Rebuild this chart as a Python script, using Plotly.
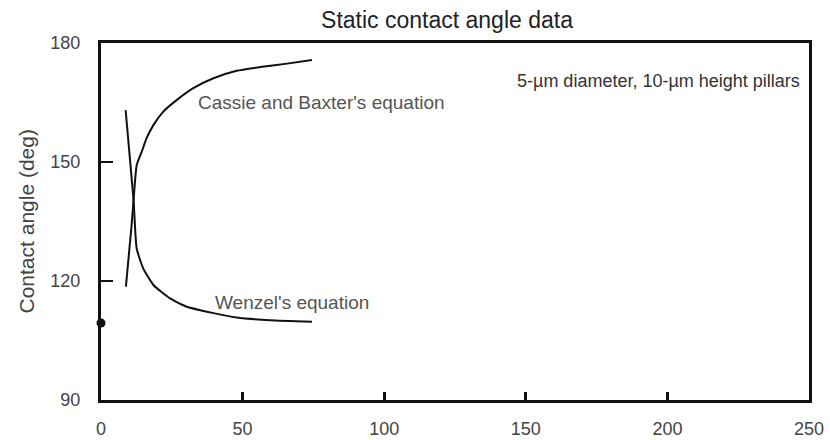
import plotly.graph_objects as go

# Cassie and Baxter's equation
cassie_x = [8.8, 10.8, 11.5, 12.6, 14.4, 16.1, 18.5, 22.0, 26.7, 32.6, 39.7, 47.9, 56.9, 65.7, 74.5]
cassie_y = [118.6, 134.1, 140.4, 149.2, 152.6, 156.0, 159.3, 162.7, 165.6, 168.6, 171.1, 173.0, 174.0, 174.8, 175.7]

# Wenzel's equation
wenzel_x = [8.7, 11.5, 12.6, 14.9, 18.5, 24.4, 30.3, 39.7, 47.9, 59.7, 74.5]
wenzel_y = [163.1, 140.4, 128.2, 123.2, 119.0, 115.6, 113.5, 111.9, 110.8, 110.1, 109.7]

# flat surface measurement
flat_x = [0]
flat_y = [109.4]

x_ticks = [0, 50, 100, 150, 200, 250]
y_ticks = [90, 120, 150, 180]

font_family = "Liberation Sans, Arial, sans-serif"
tick_color = "#444444"
note_color = "#555555"

L, R, T, B = 101, 21, 43, 40
W, H = 830, 440
pw, ph = W - L - R, H - T - B

def px_to_x(px):
    return (px - L) / pw * 250

def py_to_y(py):
    return 90 + (H - B - py) / ph * 90

fig = go.Figure()
fig.add_trace(go.Scatter(x=cassie_x, y=cassie_y, mode="lines",
                         line=dict(color="#111111", width=2, shape="spline", smoothing=0.5),
                         showlegend=False))
fig.add_trace(go.Scatter(x=wenzel_x, y=wenzel_y, mode="lines",
                         line=dict(color="#111111", width=2, shape="spline", smoothing=0.5),
                         showlegend=False))
fig.add_trace(go.Scatter(x=flat_x, y=flat_y, mode="markers",
                         marker=dict(color="#111111", size=9), cliponaxis=False, showlegend=False))

fig.add_annotation(x=px_to_x(321), y=py_to_y(102), xref="x", yref="y",
                   text="Cassie and Baxter's equation", showarrow=False,
                   font=dict(size=19, color=note_color, family=font_family))
fig.add_annotation(x=px_to_x(292), y=py_to_y(302), xref="x", yref="y",
                   text="Wenzel's equation", showarrow=False,
                   font=dict(size=19, color=note_color, family=font_family))
fig.add_annotation(x=px_to_x(802), y=py_to_y(81), xref="x", yref="y", xanchor="right",
                   text="5-µm diameter, 10-µm height pillars", showarrow=False,
                   font=dict(size=18, color="#333333", family=font_family))
fig.add_annotation(x=(26 - L) / pw, y=0.5, xref="paper", yref="paper", textangle=-90,
                   xanchor="center", yanchor="middle",
                   text="Contact angle (deg)", showarrow=False,
                   font=dict(size=21, color=tick_color, family=font_family))

fig.update_layout(
    width=W, height=H,
    margin=dict(l=L, r=R, t=T, b=B, autoexpand=False),
    paper_bgcolor="white", plot_bgcolor="white",
    font=dict(family=font_family, color=tick_color, size=18),
    title=dict(text="Static contact angle data", x=447 / W, xanchor="center",
               y=1 - 20 / H, yanchor="middle",
               font=dict(size=23, color="#222222", family=font_family)),
)
fig.update_xaxes(range=[0, 250], tickvals=x_ticks, ticktext=[str(v) for v in x_ticks],
                 automargin=False,
                 showgrid=False, zeroline=False, showline=True, linecolor="#111111", linewidth=3,
                 mirror=True, ticks="inside", ticklen=8, tickwidth=3, tickcolor="#111111",
                 ticklabelstandoff=10,
                 tickfont=dict(size=18, color=tick_color))
fig.update_yaxes(range=[90, 180], tickvals=y_ticks, ticktext=[str(v) for v in y_ticks],
                 automargin=False,
                 showgrid=False, zeroline=False, showline=True, linecolor="#111111", linewidth=3,
                 mirror=True, ticks="inside", ticklen=12, tickwidth=2, tickcolor="#111111",
                 ticklabelstandoff=14,
                 tickfont=dict(size=18, color=tick_color))

fig.write_html("out.html")
